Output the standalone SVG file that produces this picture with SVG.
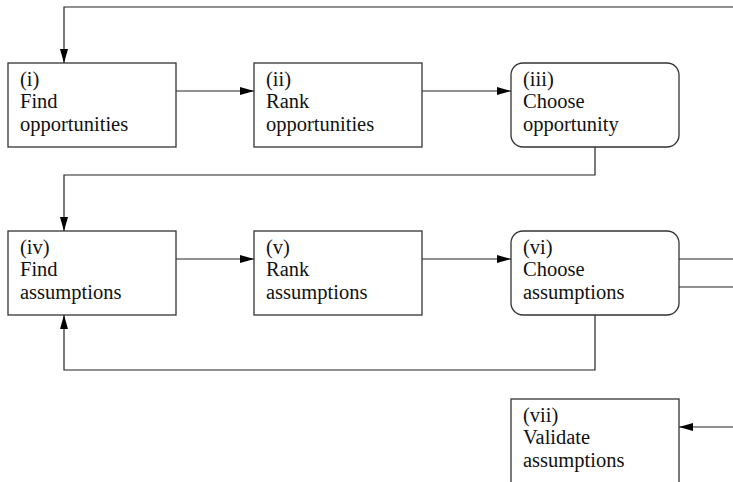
<svg xmlns="http://www.w3.org/2000/svg" width="733" height="482" viewBox="0 0 733 482">
<style>
.box{fill:#fff;stroke:#333;stroke-width:1.3}
.t{font-family:"Liberation Serif","Times New Roman",serif;font-size:20.5px;fill:#111}
.c{fill:none;stroke:#222;stroke-width:1.2}
</style>
<defs>
<marker id="ah" markerUnits="userSpaceOnUse" markerWidth="15" markerHeight="9" refX="14" refY="4" orient="auto">
<path d="M0,0 L14,4 L0,8 z" fill="#000"/>
</marker>
</defs>
<rect width="733" height="482" fill="#fff"/>
<g id="connectors">
<path class="c" d="M733,7 H64 V63" marker-end="url(#ah)"/>
<path class="c" d="M176,91 H254" marker-end="url(#ah)"/>
<path class="c" d="M422,91 H511" marker-end="url(#ah)"/>
<path class="c" d="M595,147 V175 H64 V231" marker-end="url(#ah)"/>
<path class="c" d="M176,259 H254" marker-end="url(#ah)"/>
<path class="c" d="M422,259 H511" marker-end="url(#ah)"/>
<path class="c" d="M679,259 H733"/>
<path class="c" d="M679,287 H733"/>
<path class="c" d="M595,315 V370 H64 V315" marker-end="url(#ah)"/>
<path class="c" d="M733,427 H679" marker-end="url(#ah)"/>
</g>
<g id="n1">
<rect class="box" x="8" y="63" width="168" height="84"/>
<text class="t"><tspan x="20" y="85.5">(i)</tspan><tspan x="20" y="108.3">Find</tspan><tspan x="20" y="131.1">opportunities</tspan></text>
</g>
<g id="n2">
<rect class="box" x="254" y="63" width="168" height="84"/>
<text class="t"><tspan x="266" y="85.5">(ii)</tspan><tspan x="266" y="108.3">Rank</tspan><tspan x="266" y="131.1">opportunities</tspan></text>
</g>
<g id="n3">
<rect class="box" x="511" y="63" width="168" height="84" rx="12"/>
<text class="t"><tspan x="523" y="85.5">(iii)</tspan><tspan x="523" y="108.3">Choose</tspan><tspan x="523" y="131.1">opportunity</tspan></text>
</g>
<g id="n4">
<rect class="box" x="8" y="231" width="168" height="84"/>
<text class="t"><tspan x="20" y="253.5">(iv)</tspan><tspan x="20" y="276.3">Find</tspan><tspan x="20" y="299.1">assumptions</tspan></text>
</g>
<g id="n5">
<rect class="box" x="254" y="231" width="168" height="84"/>
<text class="t"><tspan x="266" y="253.5">(v)</tspan><tspan x="266" y="276.3">Rank</tspan><tspan x="266" y="299.1">assumptions</tspan></text>
</g>
<g id="n6">
<rect class="box" x="511" y="231" width="168" height="84" rx="12"/>
<text class="t"><tspan x="523" y="253.5">(vi)</tspan><tspan x="523" y="276.3">Choose</tspan><tspan x="523" y="299.1">assumptions</tspan></text>
</g>
<g id="n7">
<rect class="box" x="511" y="399" width="168" height="100"/>
<text class="t"><tspan x="523" y="421.5">(vii)</tspan><tspan x="523" y="444.3">Validate</tspan><tspan x="523" y="467.1">assumptions</tspan></text>
</g>
</svg>
